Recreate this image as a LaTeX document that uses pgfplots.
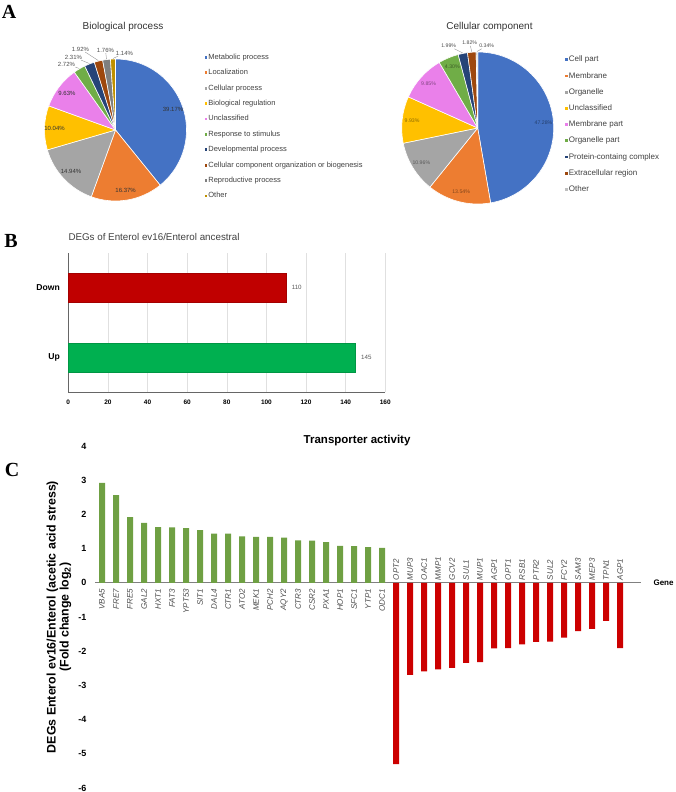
\documentclass[border=0pt]{standalone}
\usepackage{fontspec}
\setmainfont{Liberation Sans}
\newfontfamily\lettersfont{Liberation Serif}
\usepackage{pgfplots}
\pgfplotsset{compat=1.18}

\definecolor{pBlue}{HTML}{4472C4}
\definecolor{pOrange}{HTML}{ED7D31}
\definecolor{pGray}{HTML}{A5A5A5}
\definecolor{pGold}{HTML}{FFC000}
\definecolor{pViolet}{HTML}{EA80EA}
\definecolor{pGreen}{HTML}{70AD47}
\definecolor{pNavy}{HTML}{264478}
\definecolor{pBrown}{HTML}{9E480E}
\definecolor{pDGray}{HTML}{7F7F7F}
\definecolor{pOlive}{HTML}{BF9000}
\definecolor{pLGray}{HTML}{BFBFBF}
\definecolor{barRed}{HTML}{C00000}
\definecolor{barGreen}{HTML}{00B050}
\definecolor{cGreen}{HTML}{6FA043}
\definecolor{cRed}{HTML}{CC0000}

% pie drawn inside a pgfplots axis from the listed percentages
% #1 radius, #2 label radius, #3 label font, #4 label colour, #5 list value/colour/labelx/labely
\newcommand\piechart[5]{%
  \pgfplotsextra{%
    \xdef\cumang{90}%
    \foreach \v/\c/\lx/\ly in {#5} {%
      \pgfmathsetmacro\angA{\cumang}%
      \pgfmathsetmacro\angB{\cumang-3.6*\v}%
      \fill[\c, draw=white, line width=0.6pt, line join=round] (0,0) -- ++(\angA:#1pt) arc[start angle=\angA, end angle=\angB, radius=#1pt] -- cycle;
      \xdef\cumang{\angB}%
    }%
    \xdef\cumang{90}%
    \foreach \v/\c/\lx/\ly in {#5} {%
      \pgfmathsetmacro\angA{\cumang}%
      \pgfmathsetmacro\angB{\cumang-3.6*\v}%
      \pgfmathsetmacro\angM{(\angA+\angB)/2}%
      \ifdim\lx pt>900pt
        \node[font=#3, text=#4, inner sep=0pt] at ([shift={(\angM:#2pt)}]0,0) {\v\%};
      \else
        \node[font=#3, text=black!70, inner sep=0.8pt] (lab) at (\lx,\ly) {\v\%};
        \draw[black!45, line width=0.35pt] (lab) -- ([shift={(\angM:#1pt+0.5pt)}]0,0);
      \fi
      \xdef\cumang{\angB}%
    }%
  }%
}

\pgfplotsset{
  pielegend/.style={
    legend style={draw=none, fill=none, inner sep=0pt, outer sep=0pt,
      text=black!75, nodes={inner ysep=0pt, inner xsep=1pt}},
    legend cell align=left,
    legend image code/.code={\fill[##1, draw=none] (0pt,-1.4pt) rectangle (2.8pt,1.4pt);},
  }
}

\begin{document}
\begin{tikzpicture}
\path[use as bounding box] (0,0) rectangle (676pt,792pt);

% ---------------- Panel A ----------------
\node[font=\lettersfont\bfseries\fontsize{20}{20}\selectfont, inner sep=0pt] at (9pt,780pt) {A};
\node[font=\fontsize{10}{12}\selectfont, text=black!80, inner sep=0pt] at (123pt,765.3pt) {Biological process};
\node[font=\fontsize{10}{12}\selectfont, text=black!80, inner sep=0pt] at (489.5pt,765.3pt) {Cellular component};

\begin{axis}[
  at={(15.5pt,562pt)}, anchor=south west,
  x=1pt, y=1pt, xmin=-100, xmax=100, ymin=-100, ymax=100,
  hide axis, clip=false, pielegend,
  legend style={at={(axis description cs:0.9455,0.51675)}, anchor=west,
    font=\fontsize{7.5}{7.5}\selectfont, row sep=8.4pt,
    nodes={text height=5.5pt, text depth=1.5pt}},
]
\piechart{71}{61}{\fontsize{6}{6}\selectfont}{black!80}{
  39.17/pBlue/999/0, 16.37/pOrange/999/0, 14.94/pGray/999/0, 10.04/pGold/999/0,
  9.63/pViolet/999/0, 2.72/pGreen/-49/66, 2.31/pNavy/-42/73, 1.92/pBrown/-35/81,
  1.76/pDGray/-10/80, 1.14/pOlive/9/77}
\addlegendimage{fill=pBlue}\addlegendentry{Metabolic process}
\addlegendimage{fill=pOrange}\addlegendentry{Localization}
\addlegendimage{fill=pGray}\addlegendentry{Cellular process}
\addlegendimage{fill=pGold}\addlegendentry{Biological regulation}
\addlegendimage{fill=pViolet}\addlegendentry{Unclassified}
\addlegendimage{fill=pGreen}\addlegendentry{Response to stimulus}
\addlegendimage{fill=pNavy}\addlegendentry{Developmental process}
\addlegendimage{fill=pBrown}\addlegendentry{Cellular component organization or biogenesis}
\addlegendimage{fill=pDGray}\addlegendentry{Reproductive process}
\addlegendimage{fill=pOlive}\addlegendentry{Other}
\end{axis}

\begin{axis}[
  at={(377.7pt,564pt)}, anchor=south west,
  x=1pt, y=1pt, xmin=-100, xmax=100, ymin=-100, ymax=100,
  hide axis, clip=false, pielegend,
  legend style={at={(axis description cs:0.937,0.51675)}, anchor=west,
    font=\fontsize{8}{8}\selectfont, row sep=8.7pt,
    nodes={text height=5.8pt, text depth=1.7pt}},
]
\piechart{76}{66}{\fontsize{5.2}{5.2}\selectfont}{\c!55!black}{
  47.28/pBlue/999/0, 13.54/pOrange/999/0, 10.96/pGray/999/0, 9.93/pGold/999/0,
  9.85/pViolet/999/0, 4.30/pGreen/999/0, 1.99/pNavy/-29/82, 1.82/pBrown/-8/85,
  0.34/pLGray/9/82}
\addlegendimage{fill=pBlue}\addlegendentry{Cell part}
\addlegendimage{fill=pOrange}\addlegendentry{Membrane}
\addlegendimage{fill=pGray}\addlegendentry{Organelle}
\addlegendimage{fill=pGold}\addlegendentry{Unclassified}
\addlegendimage{fill=pViolet}\addlegendentry{Membrane part}
\addlegendimage{fill=pGreen}\addlegendentry{Organelle part}
\addlegendimage{fill=pNavy}\addlegendentry{Protein-containg complex}
\addlegendimage{fill=pBrown}\addlegendentry{Extracellular region}
\addlegendimage{fill=pLGray}\addlegendentry{Other}
\end{axis}

% ---------------- Panel B ----------------
\node[font=\lettersfont\bfseries\fontsize{20}{20}\selectfont, inner sep=0pt] at (11pt,551pt) {B};
\node[anchor=west, inner sep=0pt, font=\fontsize{9.8}{12}\selectfont, text=black!75] at (68.3pt,555.3pt) {DEGs of Enterol ev16/Enterol ancestral};

\begin{axis}[
  at={(68.3pt,399.7pt)}, anchor=south west,
  scale only axis, width=317pt, height=139.6pt,
  xmin=0, xmax=160, ymin=-0.5, ymax=1.5,
  xtick={0,20,...,160}, ytick={0,1}, yticklabels={Up,Down},
  axis lines*=left,
  axis line style={draw=black!60, line width=0.8pt},
  xmajorgrids, grid style={black!12, line width=0.5pt},
  major tick length=0,
  /pgf/number format/assume math mode=true,
  xticklabel style={font=\bfseries\fontsize{6.5}{7}\selectfont, yshift=-4pt},
  yticklabel style={font=\bfseries\fontsize{8.6}{9}\selectfont, xshift=-5pt},
  clip=false,
]
\addplot[xbar, bar width=29pt, bar shift=0pt, fill=barRed, draw=barRed!85!black, line width=0.4pt,
  point meta=x, nodes near coords,
  nodes near coords style={anchor=west, font=\fontsize{6.2}{7}\selectfont, text=black!65, xshift=2pt}]
  coordinates {(110,1)};
\addplot[xbar, bar width=29pt, bar shift=0pt, fill=barGreen, draw=barGreen!85!black, line width=0.4pt,
  point meta=x, nodes near coords,
  nodes near coords style={anchor=west, font=\fontsize{6.2}{7}\selectfont, text=black!65, xshift=2pt}]
  coordinates {(145,0)};
\end{axis}

% ---------------- Panel C ----------------
\node[font=\lettersfont\bfseries\fontsize{20}{20}\selectfont, inner sep=0pt] at (12pt,322pt) {C};

\begin{axis}[
  at={(95pt,4pt)}, anchor=south west,
  scale only axis, width=546pt, height=342pt,
  xmin=-0.5, xmax=38.5, ymin=-6, ymax=4,
  axis x line=middle, axis y line=left,
  x axis line style={-, draw=black!50, line width=0.6pt},
  y axis line style={draw=none},
  ytick={-6,-5,...,4},
  major tick length=0,
  /pgf/number format/assume math mode=true,
  yticklabel style={font=\bfseries\fontsize{9}{9}\selectfont, xshift=-5pt},
  xtick={0,1,...,20},
  xticklabels={VBA5,FRE7,FRE5,GAL2,HXT1,FAT3,YPT53,SIT1,DAL4,CTR1,ATO2,MEK1,PCH2,AQY2,CTR3,CSR2,PXA1,HOP1,SFC1,YTP1,ODC1},
  xticklabel style={rotate=90, anchor=east, font=\itshape\fontsize{8}{8}\selectfont, text=black!70, inner xsep=6pt},
  extra x ticks={21,22,...,37},
  extra x tick labels={OPT2,MUP3,OAC1,MMP1,GCV2,SUL1,MUP1,AGP1,OPT1,RSB1,PTR2,SUL2,FCY2,SAM3,MEP3,TPN1,AGP1},
  extra x tick style={xticklabel style={anchor=west, inner xsep=2.5pt}},
  title={Transporter activity},
  title style={at={(axis description cs:0.48,1)}, anchor=center, yshift=-1pt, font=\bfseries\fontsize{11.5}{12}\selectfont},
  ylabel={DEGs Enterol ev16/Enterol (acetic acid stress)\\(Fold change log\textsubscript{2})},
  ylabel style={align=center, at={(axis description cs:-0.066,0.5)}, anchor=center, font=\bfseries\fontsize{12.4}{13}\selectfont},
  xlabel={Gene},
  xlabel style={at={(axis description cs:1,0.6)}, anchor=west, xshift=9pt, font=\bfseries\fontsize{8}{8}\selectfont},
  clip=false,
]
\addplot[ybar, bar width=6pt, bar shift=0pt, fill=cGreen, draw=none] coordinates {
  (0,2.92) (1,2.56) (2,1.92) (3,1.75) (4,1.63) (5,1.62) (6,1.60) (7,1.54) (8,1.44) (9,1.44)
  (10,1.36) (11,1.34) (12,1.34) (13,1.32) (14,1.24) (15,1.23) (16,1.19) (17,1.08) (18,1.07)
  (19,1.04) (20,1.02)};
\addplot[ybar, bar width=6pt, bar shift=0pt, fill=cRed, draw=none] coordinates {
  (21,-5.30) (22,-2.69) (23,-2.59) (24,-2.53) (25,-2.49) (26,-2.34) (27,-2.32) (28,-1.92)
  (29,-1.91) (30,-1.80) (31,-1.73) (32,-1.72) (33,-1.60) (34,-1.41) (35,-1.35) (36,-1.11)
  (37,-1.91)};
\end{axis}
\end{tikzpicture}
\end{document}
